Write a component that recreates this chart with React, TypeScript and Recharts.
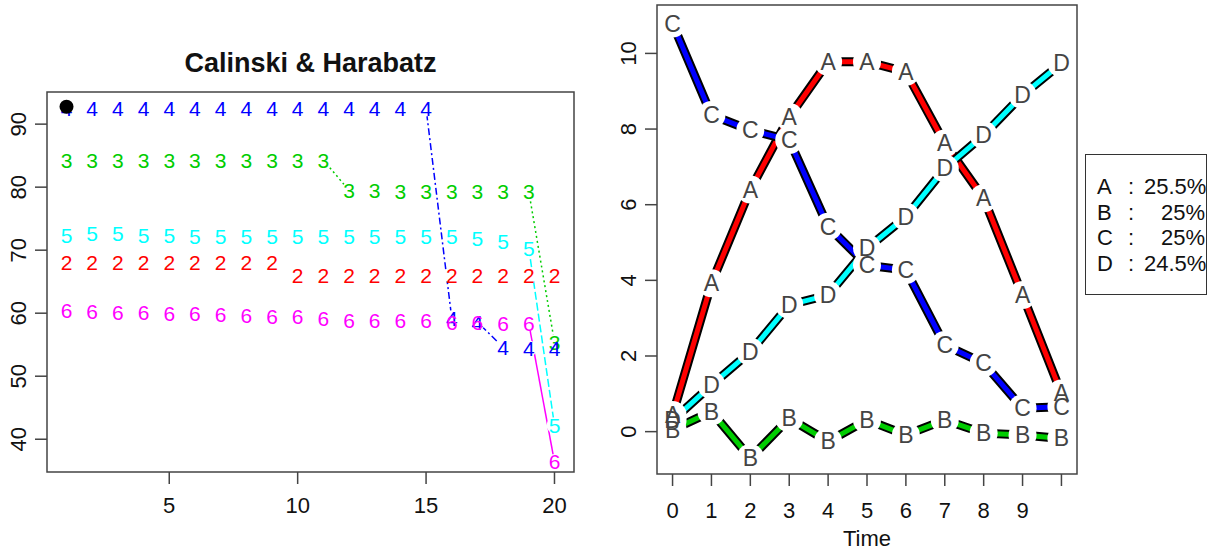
import React from "react";
import { ComposedChart, Line, Scatter, XAxis, YAxis, ReferenceArea } from "recharts";

const FONT = "'Liberation Sans', Arial, sans-serif";

// ---- left panel: Calinski & Harabatz over 20 runs ----
const runs = [1, 2, 3, 4, 5, 6, 7, 8, 9, 10, 11, 12, 13, 14, 15, 16, 17, 18, 19, 20];
const k2 = [68.1, 68.1, 68.1, 68.1, 68.1, 68.1, 68.1, 68.1, 68.1, 66.0, 66.0, 66.0, 66.0, 66.0, 66.0, 66.0, 66.0, 66.0, 66.0, 66.0];
const k3 = [84.3, 84.3, 84.3, 84.3, 84.3, 84.3, 84.3, 84.3, 84.3, 84.3, 84.3, 79.5, 79.5, 79.3, 79.3, 79.3, 79.3, 79.3, 79.3, 55.4];
const k4 = [92.5, 92.5, 92.5, 92.5, 92.5, 92.5, 92.5, 92.5, 92.5, 92.5, 92.5, 92.5, 92.5, 92.5, 92.5, 59.2, 58.6, 54.6, 54.4, 54.4];
const k5 = [72.4, 72.6, 72.6, 72.4, 72.4, 72.1, 72.1, 72.1, 72.1, 72.1, 72.1, 72.1, 72.1, 72.1, 72.1, 72.1, 71.9, 71.3, 70.3, 42.2];
const k6 = [60.5, 60.2, 60.1, 60.1, 60.0, 59.9, 59.8, 59.6, 59.4, 59.4, 59.1, 58.9, 58.9, 58.9, 58.9, 58.6, 58.6, 58.4, 58.4, 36.4];
const kLabels = ["2", "3", "4", "5", "6"];
const kColors = ["#ff0000", "#00cd00", "#0000ff", "#00ffff", "#ff00ff"];
const kDash = ["6 4", "2 3", "2 3 7 3", "8 3", undefined];
const bestRun = 1;
const bestScore = 92.75;
const leftXTicks = [5, 10, 15, 20];
const leftYTicks = [40, 50, 60, 70, 80, 90];

// ---- right panel: groups over time ----
const times = [0, 1, 2, 3, 4, 5, 6, 7, 8, 9, 10];
const groupA = [0.44, 3.92, 6.4, 8.32, 9.78, 9.78, 9.51, 7.62, 6.17, 3.61, 1.01];
const groupB = [0.05, 0.53, -0.7, 0.35, -0.26, 0.31, -0.09, 0.31, -0.04, -0.09, -0.18];
const groupC = [10.79, 8.37, 7.97, 7.71, 5.42, 4.4, 4.27, 2.29, 1.81, 0.62, 0.66];
const groupD = [0.3, 1.23, 2.11, 3.35, 3.61, 4.85, 5.68, 6.96, 7.84, 8.9, 9.74];
const groupNames = ["A", "B", "C", "D"];
const groupColors = ["#ff0000", "#00cd00", "#0000ff", "#00ffff"];
const groupShares = ["25.5%", "25%", "25%", "24.5%"];
const rightYTicks = [0, 2, 4, 6, 8, 10];

const kValues = [k2, k3, k4, k5, k6];
const leftSeries = kLabels.map((label, s) => ({
  label,
  color: kColors[s],
  dash: kDash[s],
  points: runs.map((x, i) => ({ x, y: kValues[s][i] })),
}));
// like R's type="b": only the longer jumps show a visible line piece
const leftSegments = leftSeries.flatMap((ser) =>
  ser.points
    .slice(1)
    .map((p, i) => [ser.points[i], p])
    .filter(([a, b]) => Math.abs(a.y - b.y) >= 3)
    .map((seg) => ({ ...ser, seg }))
);

const groupValues = [groupA, groupB, groupC, groupD];
const rightSeries = groupNames.map((name, s) => ({
  name,
  color: groupColors[s],
  points: times.map((x, i) => ({ x, y: groupValues[s][i] })),
}));

const yTick = (props: any) => {
  const { x, y, payload } = props;
  const bx = x - 7;
  return (
    <text x={bx} y={y} transform={`rotate(-90 ${bx} ${y})`} textAnchor="middle" fontSize={22} fill="#111" fontFamily={FONT}>
      {payload.value}
    </text>
  );
};

const xTick = (dy: number, hide?: number) => (props: any) => {
  const { x, y, payload } = props;
  return (
    <text x={x} y={y + dy} textAnchor="middle" fontSize={22} fill="#111" fontFamily={FONT}>
      {payload.value === hide ? "" : payload.value}
    </text>
  );
};

const tickStyle = { stroke: "#444", strokeWidth: 1.5 };

const CalinskiPanel = () => (
  <div style={{ position: "absolute", left: 0, top: 0, width: 600, height: 551 }}>
    <div
      style={{
        position: "absolute",
        left: 47,
        width: 527,
        top: 48,
        textAlign: "center",
        fontFamily: FONT,
        fontWeight: "bold",
        fontSize: 27,
        color: "#111",
      }}
    >
      Calinski &amp; Harabatz
    </div>
    <ComposedChart width={600} height={551} margin={{ top: 92, right: 26, bottom: 39, left: 7 }}>
      <XAxis
        type="number"
        dataKey="x"
        domain={[0.24, 20.76]}
        ticks={leftXTicks}
        allowDataOverflow
        axisLine={false}
        tickLine={tickStyle}
        tickSize={12}
        height={40}
        tick={xTick(27)}
      />
      <YAxis
        type="number"
        dataKey="y"
        domain={[34.8, 95.1]}
        ticks={leftYTicks}
        allowDataOverflow
        axisLine={false}
        tickLine={tickStyle}
        tickSize={12}
        width={40}
        tick={yTick}
      />
      <ReferenceArea x1={0.24} x2={20.76} y1={34.8} y2={95.1} fill="none" stroke="#444" strokeWidth={1.5} ifOverflow="visible" />
      {leftSegments.map((s, i) => (
        <Line
          key={`seg-${i}`}
          data={s.seg}
          dataKey="y"
          stroke={s.color}
          strokeWidth={1.5}
          strokeDasharray={s.dash}
          dot={false}
          activeDot={false}
          isAnimationActive={false}
        />
      ))}
      {leftSeries.map((s) => (
        <Scatter
          key={`halo-${s.label}`}
          data={s.points}
          dataKey="y"
          isAnimationActive={false}
          shape={(p: any) => <circle cx={p.cx} cy={p.cy} r={8} fill="#fff" />}
        />
      ))}
      {leftSeries.map((s) => (
        <Scatter
          key={`txt-${s.label}`}
          data={s.points}
          dataKey="y"
          isAnimationActive={false}
          shape={(p: any) => (
            <text x={p.cx} y={p.cy} textAnchor="middle" dominantBaseline="central" fontSize={21} fill={s.color} fontFamily={FONT}>
              {s.label}
            </text>
          )}
        />
      ))}
      <Scatter
        data={[{ x: bestRun, y: bestScore }]}
        dataKey="y"
        isAnimationActive={false}
        shape={(p: any) => <circle cx={p.cx} cy={p.cy} r={7} fill="#000" />}
      />
    </ComposedChart>
  </div>
);

const TimePanel = () => (
  <div style={{ position: "absolute", left: 600, top: 0, width: 618, height: 551 }}>
    <ComposedChart width={618} height={551} margin={{ top: 5, right: 141, bottom: 5, left: 17 }}>
      <XAxis
        type="number"
        dataKey="x"
        domain={[-0.4, 10.4]}
        ticks={times}
        allowDataOverflow
        axisLine={false}
        tickLine={tickStyle}
        tickSize={12}
        height={72}
        tick={xTick(30, 10)}
        label={{ value: "Time", position: "insideBottom", offset: 0, fontSize: 22, fill: "#111", fontFamily: FONT }}
      />
      <YAxis
        type="number"
        dataKey="y"
        domain={[-1.12, 11.28]}
        ticks={rightYTicks}
        allowDataOverflow
        axisLine={false}
        tickLine={tickStyle}
        tickSize={12}
        width={40}
        tick={yTick}
      />
      <ReferenceArea x1={-0.4} x2={10.4} y1={-1.12} y2={11.28} fill="none" stroke="#444" strokeWidth={1.5} ifOverflow="visible" />
      {rightSeries.flatMap((s) => [
        <Line
          key={`edge-${s.name}`}
          data={s.points}
          dataKey="y"
          stroke="#000"
          strokeWidth={9}
          dot={false}
          activeDot={false}
          isAnimationActive={false}
        />,
        <Line
          key={`core-${s.name}`}
          data={s.points}
          dataKey="y"
          stroke={s.color}
          strokeWidth={5}
          dot={false}
          activeDot={false}
          isAnimationActive={false}
        />,
      ])}
      {rightSeries.map((s) => (
        <Scatter
          key={`halo-${s.name}`}
          data={s.points}
          dataKey="y"
          isAnimationActive={false}
          shape={(p: any) => <circle cx={p.cx} cy={p.cy} r={14} fill="#fff" />}
        />
      ))}
      {rightSeries.map((s) => (
        <Scatter
          key={`txt-${s.name}`}
          data={s.points}
          dataKey="y"
          isAnimationActive={false}
          shape={(p: any) => (
            <text x={p.cx} y={p.cy} textAnchor="middle" dominantBaseline="central" fontSize={23} fill="#444" fontFamily={FONT}>
              {s.name}
            </text>
          )}
        />
      ))}
    </ComposedChart>
  </div>
);

const ShareBox = () => (
  <div
    style={{
      position: "absolute",
      left: 1085,
      top: 154,
      width: 122,
      height: 141,
      border: "1.5px solid #333",
      fontFamily: FONT,
      fontSize: 22,
      color: "#111",
      boxSizing: "border-box",
      paddingTop: 19,
    }}
  >
    {groupNames.map((g, i) => (
      <div key={g} style={{ display: "flex", height: 25.5, lineHeight: "25.5px" }}>
        <span style={{ width: 26, paddingLeft: 11 }}>{g}</span>
        <span style={{ width: 16, paddingLeft: 5 }}>:</span>
        <span style={{ width: 61, textAlign: "right" }}>{groupShares[i]}</span>
      </div>
    ))}
  </div>
);

export default function App() {
  return (
    <div style={{ position: "fixed", left: 0, top: 0, width: 1218, height: 551, background: "#fff", overflow: "hidden" }}>
      <CalinskiPanel />
      <TimePanel />
      <ShareBox />
    </div>
  );
}
